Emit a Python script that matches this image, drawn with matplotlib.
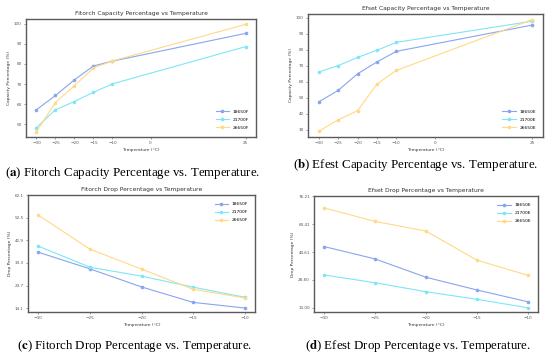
import matplotlib
matplotlib.use("Agg")
import matplotlib.pyplot as plt

# ---- data ----
temps_cap = [-30, -25, -20, -15, -10, 25]
cap_xticks = [-30, -25, -20, -15, -10, 0, 25]
temps_drop = [-30, -25, -20, -15, -10]

fitorch_labels = ["18650F", "21700F", "26650F"]
fitorch_cap_18650 = [57.2, 64.3, 72.1, 79.0, 81.4, 95.2]
fitorch_cap_21700 = [48.3, 57.2, 61.3, 65.9, 70.1, 88.6]
fitorch_cap_26650 = [46.3, 60.8, 69.2, 78.0, 81.5, 99.7]

efest_labels = ["18650E", "21700E", "26650E"]
efest_cap_18650 = [47.4, 54.5, 64.9, 72.3, 78.9, 95.3]
efest_cap_21700 = [66.0, 70.0, 75.1, 79.6, 84.5, 97.7]
efest_cap_26650 = [29.0, 36.2, 41.9, 58.5, 67.0, 98.7]

fitorch_drop_18650 = [37.9, 30.8, 23.1, 16.5, 14.1]
fitorch_drop_21700 = [40.5, 31.5, 27.7, 23.0, 18.7]
fitorch_drop_26650 = [53.7, 39.2, 30.7, 22.1, 18.4]
fitorch_drop_yticks = [14.1, 23.7, 33.3, 42.9, 52.5, 62.1]

efest_drop_18650 = [47.7, 40.7, 30.3, 23.1, 16.4]
efest_drop_21700 = [31.6, 27.2, 22.1, 17.8, 13.0]
efest_drop_26650 = [69.6, 62.0, 56.5, 40.0, 31.4]
efest_drop_yticks = [13.00, 28.80, 44.61, 60.41, 76.21]

colors = ["#88a5f0", "#7fe6f6", "#ffd985"]

W, H = 550, 354
fig = plt.figure(figsize=(W / 100, H / 100), dpi=100)


def add_ax(left, top, right, bottom):
    return fig.add_axes([left / W, 1 - bottom / H, (right - left) / W, (bottom - top) / H])


def style(ax, title, ylabel):
    ax.set_title(title, fontsize=4.3, pad=3, color="#333333")
    ax.set_xlabel("Temperature (°C)", fontsize=3.2, labelpad=2, color="#333333")
    ax.set_ylabel(ylabel, fontsize=3.2, labelpad=2, color="#333333")
    ax.tick_params(labelsize=3.0, length=1.5, width=0.4, pad=1.5, colors="#555555")
    for s in ax.spines.values():
        s.set_color("#5a5a5a")
        s.set_linewidth(1.0)


def plot_series(ax, x, ys, labels, loc):
    for y, lab, c in zip(ys, labels, colors):
        ax.plot(x, y, marker="o", markersize=1.6, linewidth=0.8, color=c, label=lab)
    ax.legend(loc=loc, fontsize=3.2, frameon=False, handlelength=3, labelspacing=0.9,
              borderaxespad=1.2)


# (a)
ax = add_ax(26, 19, 256, 137)
plot_series(ax, temps_cap, [fitorch_cap_18650, fitorch_cap_21700, fitorch_cap_26650],
            fitorch_labels, "lower right")
ax.set_xticks(cap_xticks)
ax.set_yticks([50, 60, 70, 80, 90, 100])
style(ax, "Fitorch Capacity Percentage vs Temperature", "Capacity Percentage (%)")

# (b)
ax = add_ax(308, 14, 543, 137)
plot_series(ax, temps_cap, [efest_cap_18650, efest_cap_21700, efest_cap_26650],
            efest_labels, "lower right")
ax.set_xticks(cap_xticks)
ax.set_yticks([30, 40, 50, 60, 70, 80, 90, 100])
style(ax, "Efset Capacity Percentage vs Temperature", "Capacity Percentage (%)")

# (c)
ax = add_ax(28, 195, 255, 312)
plot_series(ax, temps_drop, [fitorch_drop_18650, fitorch_drop_21700, fitorch_drop_26650],
            fitorch_labels, "upper right")
ax.set_xticks(temps_drop)
ax.set_yticks(fitorch_drop_yticks)
ax.set_yticklabels([f"{v:.1f}" for v in fitorch_drop_yticks])
ax.set_ylim(12.4, 62.3)
style(ax, "Fitorch Drop Percentage vs Temperature", "Drop Percentage (%)")

# (d)
ax = add_ax(314, 196, 538, 312)
plot_series(ax, temps_drop, [efest_drop_18650, efest_drop_21700, efest_drop_26650],
            efest_labels, "upper right")
ax.set_xticks(temps_drop)
ax.set_yticks(efest_drop_yticks)
ax.set_yticklabels([f"{v:.2f}" for v in efest_drop_yticks])
ax.set_ylim(10.6, 76.4)
style(ax, "Efset Drop Percentage vs Temperature", "Drop Percentage (%)")

# captions
caps = [
    ("a", "Fitorch Capacity Percentage vs. Temperature.", 133, 173),
    ("b", "Efest Capacity Percentage vs. Temperature.", 416, 165),
    ("c", "Fitorch Drop Percentage vs. Temperature.", 135, 346),
    ("d", "Efest Drop Percentage vs. Temperature.", 418, 346),
]
for letter, text, cx, cy in caps:
    fig.text(cx / W, 1 - cy / H, f"($\\mathbf{{{letter}}}$) {text}", ha="center", va="center",
             fontsize=9.3, family="Liberation Serif", math_fontfamily="stix")

fig.savefig("out.png", dpi=100)
